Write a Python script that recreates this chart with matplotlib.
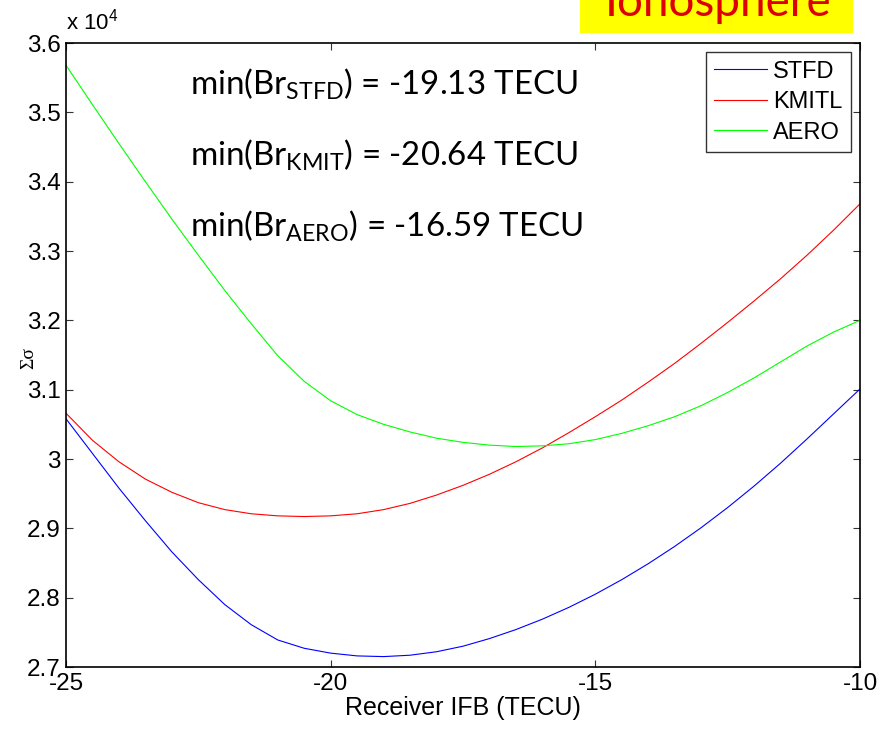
import numpy as np
import matplotlib.pyplot as plt
from matplotlib.patches import Rectangle

plt.rcParams['font.family'] = ['Liberation Sans', 'DejaVu Sans']
plt.rcParams['mathtext.fontset'] = 'custom'
plt.rcParams['mathtext.rm'] = 'Lato'
plt.rcParams['axes.unicode_minus'] = False

# receiver IFB (TECU)
ifb = np.arange(-25, -9.9, 0.5)

# sum of sigma, in units of 1e4
stfd = [3.058, 3.008, 2.958, 2.911, 2.866, 2.826, 2.790, 2.761, 2.739, 2.727,
        2.720, 2.716, 2.715, 2.717, 2.722, 2.730, 2.741, 2.754, 2.769, 2.786,
        2.805, 2.826, 2.849, 2.874, 2.901, 2.930, 2.961, 2.994, 3.029, 3.065, 3.101]
kmitl = [3.066, 3.027, 2.996, 2.971, 2.952, 2.937, 2.927, 2.921, 2.918, 2.917,
         2.918, 2.921, 2.927, 2.936, 2.948, 2.962, 2.978, 2.996, 3.016, 3.038,
         3.061, 3.085, 3.111, 3.138, 3.167, 3.197, 3.228, 3.260, 3.294, 3.330, 3.368]
aero = [3.568, 3.511, 3.455, 3.400, 3.346, 3.294, 3.243, 3.195, 3.149, 3.112,
        3.084, 3.064, 3.050, 3.039, 3.030, 3.024, 3.020, 3.018, 3.019, 3.022,
        3.028, 3.037, 3.048, 3.061, 3.077, 3.096, 3.117, 3.140, 3.163, 3.183, 3.200]

labels = ['STFD', 'KMITL', 'AERO']
colors = ['#0000ff', '#ff0000', '#00ff00']
min_names = ['STFD', 'KMIT', 'AERO']
min_vals = [-19.13, -20.64, -16.59]

xticks = [-25, -20, -15, -10]
yticks = [2.7, 2.8, 2.9, 3.0, 3.1, 3.2, 3.3, 3.4, 3.5, 3.6]
ytick_labels = ['2.7', '2.8', '2.9', '3', '3.1', '3.2', '3.3', '3.4', '3.5', '3.6']

fig = plt.figure(figsize=(8.92, 7.30), dpi=100)
ax = fig.add_axes([66 / 892, 1 - 667 / 730, 794 / 892, 624 / 730])

for ys, lab, c in zip([stfd, kmitl, aero], labels, colors):
    ax.plot(ifb, ys, color=c, lw=0.8, label=lab)

ax.set_xlim(-25, -10)
ax.set_ylim(2.7, 3.6)
ax.set_xticks(xticks)
ax.set_yticks(yticks)
ax.set_yticklabels(ytick_labels)
ax.tick_params(direction='in', length=5, width=0.8, top=True, right=True,
               labelsize=17.5, pad=4, color='#333333')
for s in ax.spines.values():
    s.set_linewidth(1.2)

ax.set_xlabel('Receiver IFB (TECU)', fontsize=18, labelpad=1)
ax.set_ylabel('Σσ', fontsize=14, family=['Liberation Serif', 'DejaVu Serif'])
ax.yaxis.set_label_coords(-0.036, 0.495)

ax.text(0, 1.014, r'x 10$^{\mathregular{4}}$', transform=ax.transAxes, fontsize=16,
        ha='left', va='bottom')

leg = ax.legend(loc='upper right', fontsize=17, frameon=True, fancybox=False,
                edgecolor='black', handlelength=2.25, handletextpad=0.25,
                borderpad=0.35, labelspacing=0.36, borderaxespad=0.4)
leg.get_frame().set_linewidth(1.0)

for i, (nm, v) in enumerate(zip(min_names, min_vals)):
    ax.text(190 / 892, 1 - (94 + 71 * i) / 730,
            r'min(Br$_{\mathregular{%s}}$) = %.2f TECU' % (nm, v),
            transform=fig.transFigure, fontsize=23.8, family='Lato',
            ha='left', va='baseline')

fig.patches.append(Rectangle((580 / 892, 1 - 33 / 730), 273 / 892, 40 / 730,
                             transform=fig.transFigure, facecolor='#ffff00',
                             edgecolor='none'))
fig.text(718 / 892, 1 - 16 / 730, 'Ionosphere', fontsize=33, family='Lato',
         color='#dd0000', ha='center', va='baseline')

fig.savefig('out.png', dpi=100)
